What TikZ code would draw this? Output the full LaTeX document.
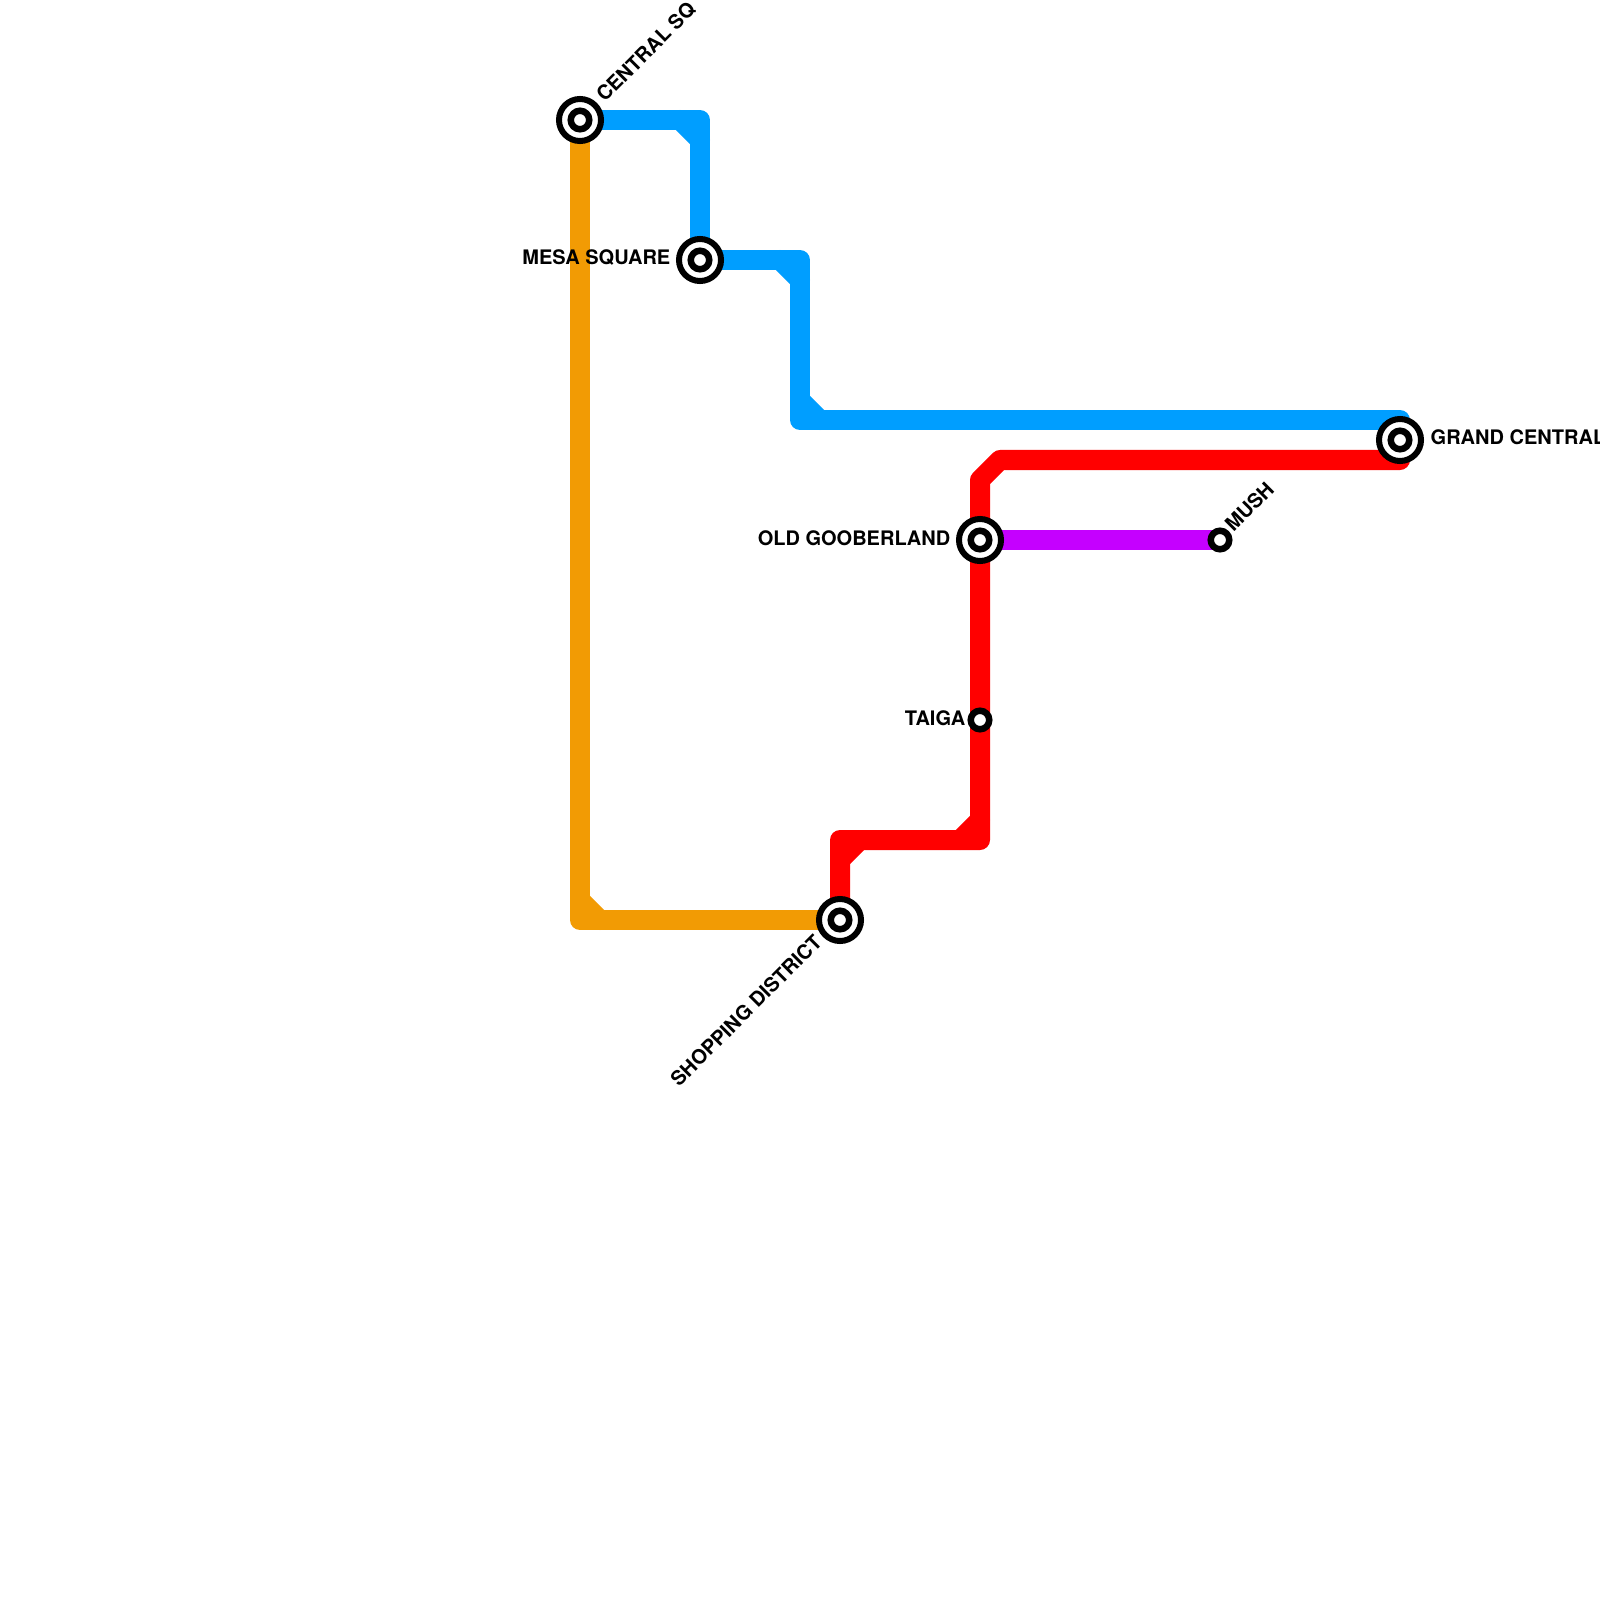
\documentclass[tikz,border=0pt]{standalone}
\usepackage{fontspec}
\setmainfont{TeX Gyre Heros}
\definecolor{lineblue}{RGB}{0,158,255}
\definecolor{lineorange}{RGB}{242,155,4}
\definecolor{linered}{RGB}{255,0,0}
\definecolor{linepurple}{RGB}{197,0,255}

\begin{document}
\begin{tikzpicture}[x=0.01cm, y=-0.01cm,
    metroline/.style={line width=0.2cm, line join=round, line cap=round},
    outerring/.style={circle, draw=black, fill=white, line width=0.06cm, inner sep=0pt, minimum size=0.42cm},
    innerring/.style={circle, draw=black, fill=white, line width=0.065cm, inner sep=0pt, minimum size=0.185cm},
    stationlabel/.style={inner sep=0pt, font=\fontsize{5.69}{6.8}\selectfont\bfseries}]
  \useasboundingbox (0,0) rectangle (1600,1600);

  % Stations
  \coordinate (central) at (580,120);
  \coordinate (mesa) at (700,260);
  \coordinate (grand) at (1400,440);
  \coordinate (gooberland) at (980,540);
  \coordinate (mush) at (1220,540);
  \coordinate (taiga) at (980,720);
  \coordinate (shopping) at (840,920);

  % Blue line bends
  \coordinate (B1) at (700,120);
  \coordinate (B1a) at (680,120);
  \coordinate (B1b) at (700,140);
  \coordinate (B2) at (800,260);
  \coordinate (B2a) at (780,260);
  \coordinate (B2b) at (800,280);
  \coordinate (B3) at (800,420);
  \coordinate (B3a) at (800,400);
  \coordinate (B3b) at (820,420);
  \coordinate (B4) at (1400,420);

  % Orange line bend
  \coordinate (O1) at (580,920);
  \coordinate (O1a) at (580,900);
  \coordinate (O1b) at (600,920);

  % Red line bends
  \coordinate (R1) at (1400,460);
  \coordinate (R2) at (1000,460);
  \coordinate (R3) at (980,480);
  \coordinate (R4) at (980,840);
  \coordinate (R4a) at (960,840);
  \coordinate (R4b) at (980,820);
  \coordinate (R5) at (840,840);
  \coordinate (R5a) at (840,860);
  \coordinate (R5b) at (860,840);

  % Lines
  \draw[metroline, lineorange] (central) -- (O1) -- (shopping);
  \draw[metroline, lineorange] (O1a) -- (O1b);
  \draw[metroline, lineblue] (central) -- (B1) -- (mesa) -- (B2) -- (B3) -- (B4) -- (grand);
  \draw[metroline, lineblue] (B1a) -- (B1b);
  \draw[metroline, lineblue] (B2a) -- (B2b);
  \draw[metroline, lineblue] (B3a) -- (B3b);
  \draw[metroline, linered] (grand) -- (R1) -- (R2) -- (R3) -- (gooberland) -- (taiga) -- (R4) -- (R5) -- (shopping);
  \draw[metroline, linered] (R4a) -- (R4b);
  \draw[metroline, linered] (R5a) -- (R5b);
  \draw[metroline, linepurple] (gooberland) -- (mush);

  % Station rings
  \node[outerring] (central outer) at (central) {};
  \node[innerring] (central inner) at (central) {};
  \node[outerring] (mesa outer) at (mesa) {};
  \node[innerring] (mesa inner) at (mesa) {};
  \node[outerring] (grand outer) at (grand) {};
  \node[innerring] (grand inner) at (grand) {};
  \node[outerring] (gooberland outer) at (gooberland) {};
  \node[innerring] (gooberland inner) at (gooberland) {};
  \node[outerring] (shopping outer) at (shopping) {};
  \node[innerring] (shopping inner) at (shopping) {};
  \node[innerring] (mush inner) at (mush) {};
  \node[innerring] (taiga inner) at (taiga) {};

  % Labels
  \node[stationlabel, anchor=west, rotate=45] (central label) at (599.5,98.5) {CENTRAL SQ};
  \node[stationlabel, anchor=east] (mesa label) at (671,258) {MESA SQUARE};
  \node[stationlabel, anchor=west] (grand label) at (1430,437.5) {GRAND CENTRAL};
  \node[stationlabel, anchor=east] (gooberland label) at (951,538) {OLD GOOBERLAND};
  \node[stationlabel, anchor=west, rotate=45] (mush label) at (1228,528) {MUSH};
  \node[stationlabel, anchor=east] (taiga label) at (966,718) {TAIGA};
  \node[stationlabel, anchor=east, rotate=45] (shopping label) at (818.5,938) {SHOPPING DISTRICT};
\end{tikzpicture}
\end{document}
